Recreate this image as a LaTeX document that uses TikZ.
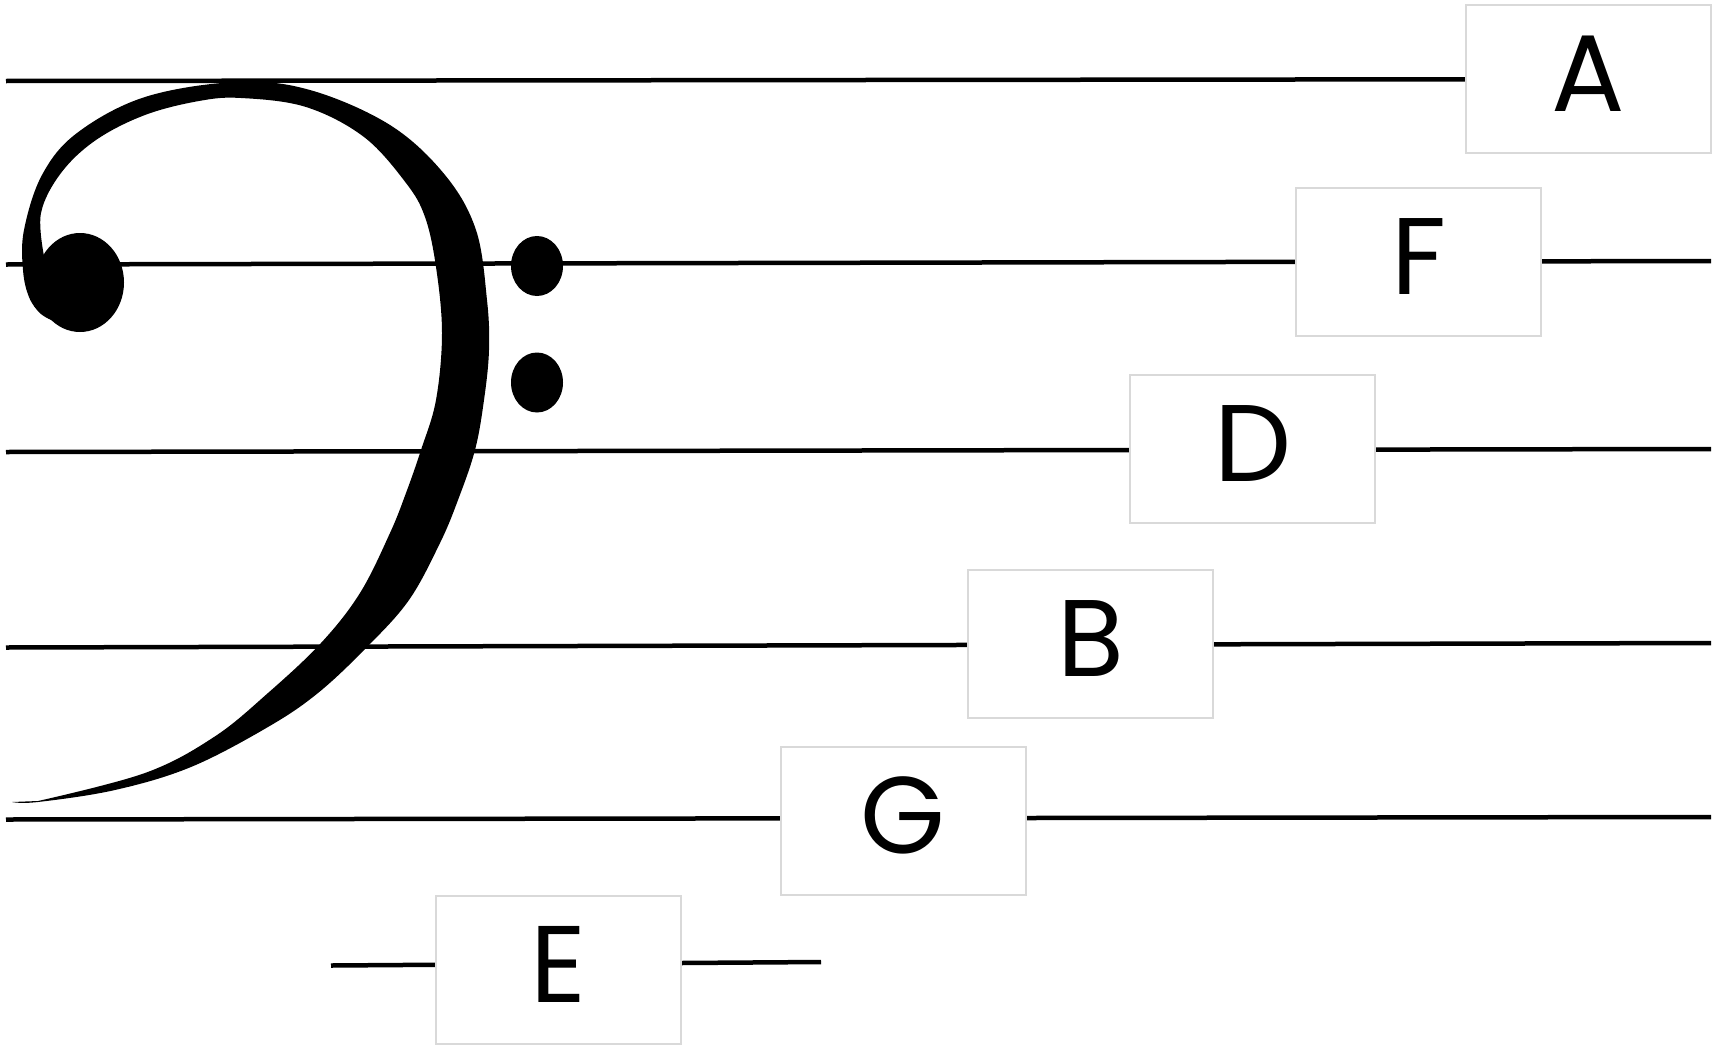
\documentclass[tikz,border=0pt]{standalone}
\usepackage{fontspec}
\setmainfont{Poppins}
\definecolor{boxgray}{HTML}{D9D9D9}
\begin{document}
\begin{tikzpicture}[x=1pt,y=-1pt,
  staff/.style={line width=4.5pt,black},
  nbox/.style={draw=boxgray,line width=2pt,fill=white,minimum width=245pt,minimum height=148pt,inner sep=0pt,
    font=\fontsize{109}{109}\selectfont,text height=77pt,text depth=12pt},
  clef/.style={fill=black}]
\useasboundingbox[fill=white] (0,0) rectangle (1721,1044);
% staff line end points
\coordinate (aL) at (6,81);    \coordinate (aR) at (1466,79.3);
\coordinate (fL) at (6,264.5); \coordinate (fR) at (1711,261);
\coordinate (dL) at (6,452);   \coordinate (dR) at (1711,449);
\coordinate (bL) at (6,647.5); \coordinate (bR) at (1711,643);
\coordinate (gL) at (6,819.5); \coordinate (gR) at (1711,817);
\coordinate (eL) at (331,965.5); \coordinate (eR) at (821,962);
\draw[staff] (aL) -- (aR);
\draw[staff] (fL) -- (fR);
\draw[staff] (dL) -- (dR);
\draw[staff] (bL) -- (bR);
\draw[staff] (gL) -- (gR);
\draw[staff] (eL) -- (eR);
% bass clef
\fill[clef] plot[smooth,tension=0.6] coordinates {(12,802) (38,802) (115,790) (191,767) (268,727) (318,693) (367,647) (409,600) (440,543) (458,500) (475,450) (484,400) (489,350) (487,300) (476,230) (445,175) (390,125) (310,90) (237,82) (145,97) (77,133) (42,175) (24,230) (23,270) (29,297) (41,314) (58,323)}
  -- (70,290) --
  plot[smooth,tension=0.6] coordinates {(44,256) (41,213) (61,173) (96,140) (145,115) (199,101) (241,98) (306,107) (364,137) (406,183) (425,217) (436,267) (442,333) (436,400) (421,450) (406,493) (390,533) (360,593) (321,643) (268,693) (214,737) (145,773) (38,801)} -- cycle;
\fill[clef] (80,282.5) ellipse [x radius=44pt, y radius=49.5pt];
\fill[clef] (537,266) ellipse [x radius=26pt, y radius=30pt];
\fill[clef] (537,382.5) ellipse [x radius=26pt, y radius=30pt];
% note boxes
\node[nbox] (A) at (1588.5,78.5) {A};
\node[nbox] (F) at (1418.6,261.8) {F};
\node[nbox] (D) at (1252.9,449) {D};
\node[nbox] (B) at (1090.4,643.8) {B};
\node[nbox] (G) at (903.3,821) {G};
\node[nbox] (E) at (558,969.7) {E};
\end{tikzpicture}
\end{document}
